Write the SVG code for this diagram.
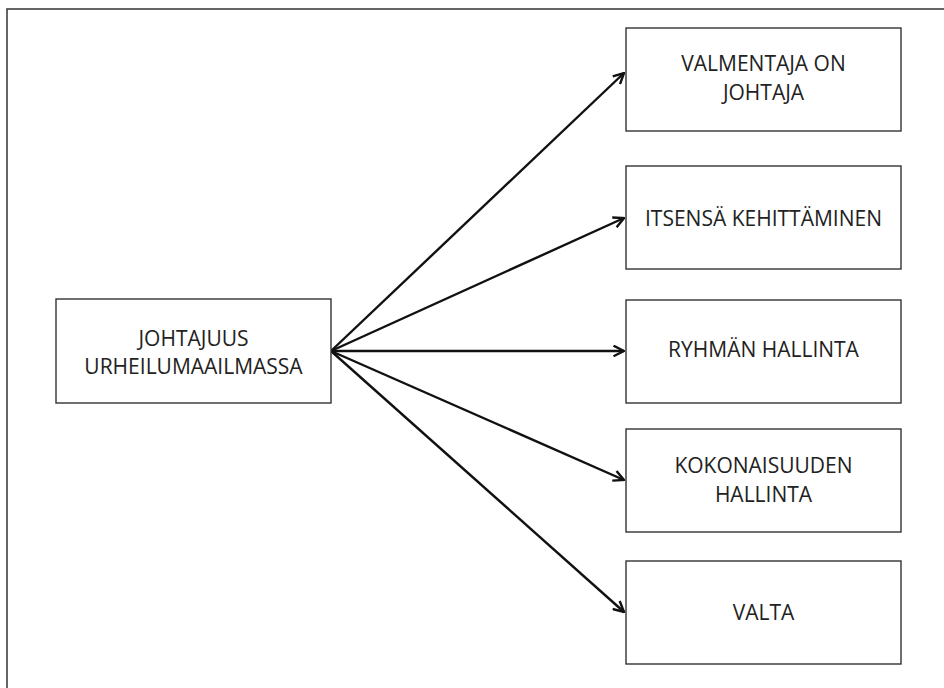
<svg xmlns="http://www.w3.org/2000/svg" width="944" height="688" viewBox="0 0 944 688">
  <style>
    .box { fill: #ffffff; stroke: #333333; stroke-width: 1.4; }
    .frame { fill: none; stroke: #333333; stroke-width: 1.5; }
    .label { font-family: "Open Sans", "Liberation Sans", sans-serif; font-size: 21px; fill: #222222; text-anchor: middle; }
    .edge { fill: none; stroke: #111111; stroke-width: 2.4; }
  </style>
  <defs>
    <marker id="open-arrow" viewBox="0 0 13 13" refX="12" refY="6.5" markerWidth="13" markerHeight="13" markerUnits="userSpaceOnUse" orient="auto">
      <path d="M1.5,1.2 L12,6.5 L1.5,11.8" fill="none" stroke="#111111" stroke-width="2.4" stroke-linejoin="miter"/>
    </marker>
  </defs>
  <rect width="944" height="688" fill="#ffffff"/>

  <!-- page frame: top and left edges -->
  <path class="frame" d="M7,688 L7,9 L944,9"/>

  <!-- connectors -->
  <g id="connectors">
    <line class="edge" x1="331" y1="351" x2="624" y2="73" marker-end="url(#open-arrow)"/>
    <line class="edge" x1="331" y1="351" x2="624" y2="218" marker-end="url(#open-arrow)"/>
    <line class="edge" x1="331" y1="351" x2="624" y2="351" marker-end="url(#open-arrow)"/>
    <line class="edge" x1="331" y1="351" x2="624" y2="480" marker-end="url(#open-arrow)"/>
    <line class="edge" x1="331" y1="351" x2="624" y2="612" marker-end="url(#open-arrow)"/>
  </g>

  <g id="johtajuus">
    <rect class="box" x="56" y="299" width="275" height="104"/>
    <text class="label" x="193.5" y="346">JOHTAJUUS</text>
    <text class="label" x="193.5" y="374">URHEILUMAAILMASSA</text>
  </g>

  <g id="valmentaja">
    <rect class="box" x="626" y="28" width="275" height="103"/>
    <text class="label" x="763.5" y="71">VALMENTAJA ON</text>
    <text class="label" x="763.5" y="100">JOHTAJA</text>
  </g>

  <g id="itsensa">
    <rect class="box" x="626" y="166" width="275" height="103"/>
    <text class="label" x="763.5" y="226">ITSENSÄ KEHITTÄMINEN</text>
  </g>

  <g id="ryhma">
    <rect class="box" x="626" y="300" width="275" height="103"/>
    <text class="label" x="763.5" y="357">RYHMÄN HALLINTA</text>
  </g>

  <g id="kokonaisuus">
    <rect class="box" x="626" y="429" width="275" height="103"/>
    <text class="label" x="763.5" y="473">KOKONAISUUDEN</text>
    <text class="label" x="763.5" y="502">HALLINTA</text>
  </g>

  <g id="valta">
    <rect class="box" x="626" y="561" width="275" height="103"/>
    <text class="label" x="763.5" y="620">VALTA</text>
  </g>
</svg>
